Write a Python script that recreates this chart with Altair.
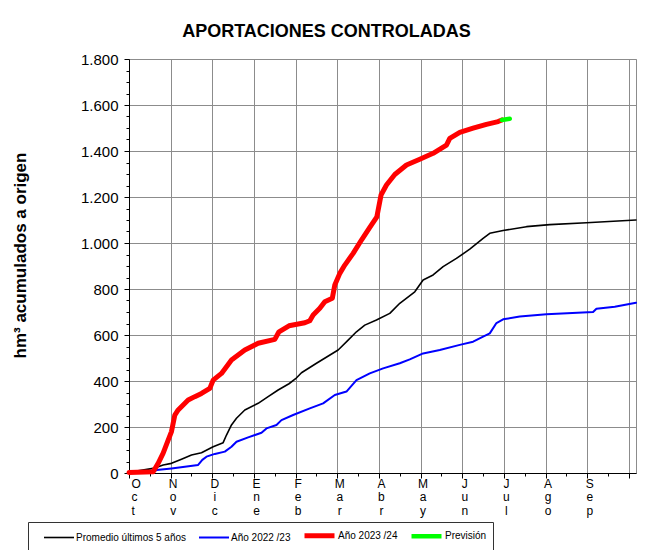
import altair as alt
import pandas as pd

# x values are in month units from 1 October (0 = Oct, 1 = Nov, ... 12 = end of Sep)
months = ["Oct", "Nov", "Dic", "Ene", "Feb", "Mar", "Abr", "May", "Jun", "Jul", "Ago", "Sep"]

series_names = ["Promedio últimos 5 años", "Año 2022 /23", "Año 2023 /24", "Previsión"]
series_colors = ["#000000", "#0000ff", "#ff0000", "#00ff00"]
series_widths = [1.6, 2, 5, 4.5]

prom_x = [0, 0.58, 0.82, 1.02, 1.26, 1.50, 1.74, 2.02, 2.26, 2.34, 2.46, 2.58, 2.78, 3.10, 3.34,
          3.58, 3.84, 4.00, 4.14, 4.50, 5.02, 5.26, 5.46, 5.66, 5.94, 6.26, 6.50, 6.86, 7.06, 7.30,
          7.54, 7.86, 8.18, 8.50, 8.66, 8.98, 9.54, 10.10, 10.98, 12.17]
prom_y = [3, 20, 35, 42, 60, 78, 88, 114, 132, 165, 209, 238, 274, 303, 332,
          361, 388, 410, 436, 477, 535, 578, 614, 643, 665, 694, 738, 788, 839, 861,
          897, 933, 973, 1020, 1042, 1054, 1071, 1080, 1088, 1100]

a23_x = [0, 0.58, 0.66, 1.02, 1.34, 1.66, 1.76, 1.86, 2.06, 2.30, 2.46, 2.58, 2.86, 3.18, 3.30,
         3.54, 3.66, 3.94, 4.34, 4.66, 4.94, 5.22, 5.46, 5.78, 6.10, 6.50, 6.74, 7.06, 7.46, 7.94,
         8.26, 8.50, 8.66, 8.82, 8.98, 9.38, 10.02, 11.14, 11.22, 11.66, 12.17]
a23_y = [2, 5, 13, 20, 27, 35, 57, 71, 83, 93, 114, 136, 155, 175, 194,
         209, 230, 252, 281, 303, 339, 354, 404, 433, 455, 477, 494, 520, 535, 557,
         571, 593, 607, 652, 668, 680, 690, 700, 714, 723, 740]

a24_x = [0, 0.58, 0.70, 0.82, 0.94, 1.02, 1.10, 1.18, 1.42, 1.58, 1.74, 1.94, 2.02, 2.22, 2.46,
         2.78, 3.10, 3.50, 3.60, 3.84, 4.22, 4.34, 4.42, 4.58, 4.70, 4.88, 4.94, 5.06, 5.18, 5.38,
         5.58, 5.78, 5.95, 6.05, 6.18, 6.38, 6.66, 6.98, 7.30, 7.62, 7.70, 7.94, 8.26, 8.58, 8.86,
         8.95]
a24_y = [2, 5, 42, 86, 143, 180, 252, 274, 317, 332, 346, 368, 404, 433, 491,
         535, 564, 581, 614, 640, 653, 662, 687, 716, 745, 760, 817, 868, 904, 955,
         1013, 1068, 1114, 1209, 1252, 1298, 1339, 1364, 1390, 1426, 1455, 1481, 1499, 1516, 1528,
         1535]

prev_x = [8.95, 9.14]
prev_y = [1535, 1540]

y_ticks = list(range(0, 1801, 50))
x_ticks = [i / 2 for i in range(25)]

month_js = "[" + ",".join("'" + m + "'" for m in months) + "]"
x_label_expr = ("datum.value % 1 === 0 && datum.value < 12 ? split(" + month_js
                + "[datum.value], '') : ''")
y_label_expr = "datum.value % 200 === 0 ? replace(format(datum.value, ','), ',', '.') : ''"

legend = alt.Legend(
    orient="none", legendX=-101, legendY=463, direction="horizontal",
    title=None,
    strokeColor="#333333", padding=6, symbolType="M-3,0H3", symbolSize=100,
    symbolOffset=19, labelOffset=11,
    labelFontSize=10, columnPadding=2, labelColor="#000000",
)

x_enc = alt.X("mes:Q", scale=alt.Scale(domain=[0, 12.17], nice=False, zero=False),
              axis=alt.Axis(
                  values=x_ticks, title=None, labelExpr=x_label_expr, labelOverlap=False,
                  labelFontSize=12, labelLineHeight=13.5, labelBaseline="top", labelPadding=0,
                  labelOffset=2, labelColor="#000000",
                  grid=True,
                  gridOpacity={"condition": {"test": "datum.value % 1 === 0", "value": 1}, "value": 0},
                  tickSize={"condition": {"test": "datum.value % 1 === 0", "value": 5}, "value": 3},
                  domainColor="#000000", tickColor="#000000",
              ))
y_enc = alt.Y("valor:Q", scale=alt.Scale(domain=[0, 1800], nice=False),
              axis=alt.Axis(
                  values=y_ticks, title="hm³ acumulados a origen", labelExpr=y_label_expr,
                  labelOverlap=False, labelFontSize=15, labelPadding=6, labelColor="#000000",
                  grid=True,
                  gridOpacity={"condition": {"test": "datum.value % 200 === 0", "value": 1}, "value": 0},
                  tickSize={"condition": {"test": "datum.value % 200 === 0", "value": 5}, "value": 3},
                  domainColor="#000000", tickColor="#000000",
                  titleFontSize=17, titleFontWeight="bold", titleX=-109, titleY=196,
                  titleAngle=270, titleAlign="center", titleBaseline="middle", titleColor="#000000",
              ))
color_enc = alt.Color("serie:N", sort=series_names,
                      scale=alt.Scale(domain=series_names, range=series_colors), legend=legend)
width_enc = alt.StrokeWidth("serie:N", sort=series_names,
                            scale=alt.Scale(type="ordinal", domain=series_names, range=series_widths),
                            legend=legend)

layers = []
for name, xs, ys, w in zip(series_names, [prom_x, a23_x, a24_x, prev_x],
                           [prom_y, a23_y, a24_y, prev_y], series_widths):
    d = pd.DataFrame({"mes": xs, "valor": ys, "serie": name, "orden": list(range(len(xs)))})
    layers.append(
        alt.Chart(d).mark_line(strokeWidth=w, strokeCap="round", strokeJoin="round").encode(
            x=x_enc, y=y_enc, color=color_enc, strokeWidth=width_enc, order="orden:Q"
        )
    )

chart = alt.layer(*layers).properties(
    width=507, height=414,
    title=alt.TitleParams("APORTACIONES CONTROLADAS", fontSize=18, fontWeight="bold",
                          anchor="middle", dx=-56, dy=29, offset=26, baseline="alphabetic",
                          color="#000000"),
    autosize=alt.AutoSizeParams(type="none"),
    padding={"left": 121, "top": 51, "right": 18, "bottom": 77},
).configure(
    font="Liberation Sans",
).configure_axis(
    gridColor="#8c8c8c", gridWidth=1,
).configure_view(
    stroke="#8c8c8c", strokeWidth=1,
)

chart.save("out.html", embed_options={"renderer": "svg", "actions": False})
